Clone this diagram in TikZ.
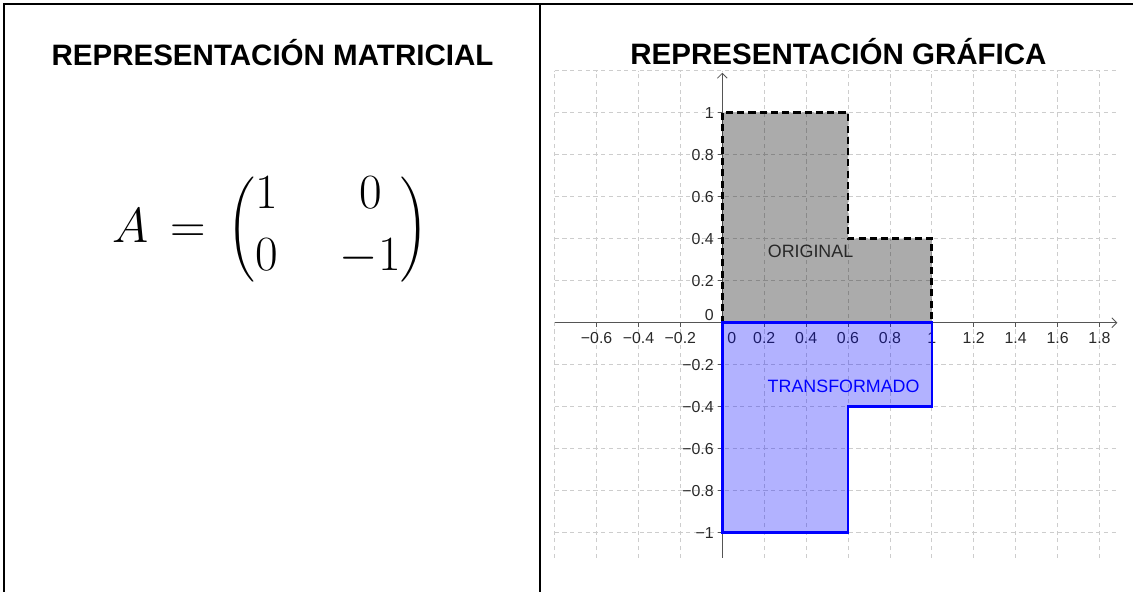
\RequirePackage{fix-cm}
\documentclass[tikz,border=0pt]{standalone}
\usepackage{amsmath}
\usepackage[no-math]{fontspec}
\setmainfont{Liberation Sans}
\usepackage{tikz}
\usetikzlibrary{arrows.meta}
\definecolor{gridgray}{RGB}{205,205,205}
\definecolor{axisgray}{RGB}{85,85,85}
\definecolor{labelgray}{RGB}{40,40,40}

\begin{document}
\begin{tikzpicture}[x=0.025cm, y=-0.025cm,
        frame/.style={line width=1.5pt, black},
        title/.style={font=\fontsize{21}{24}\selectfont\bfseries, anchor=base, inner sep=0pt},
        gridline/.style={gridgray, line width=0.6pt, dash pattern=on 3pt off 2.5pt},
        axis/.style={axisgray, line width=0.6pt, -{Straight Barb[length=3.5pt, width=7pt]}},
        tick/.style={axisgray, line width=0.6pt},
        ticklabel/.style={font=\fontsize{11.3}{13}\selectfont, text=labelgray, inner sep=0pt},
        original/.style={fill=black, fill opacity=0.33, draw=black, line width=2pt, dash pattern=on 5pt off 3pt},
        transformed/.style={fill=blue, fill opacity=0.3, draw=blue, line width=1.8pt},
        shapelabel/.style={font=\fontsize{12.7}{14}\selectfont, inner sep=0pt}
    ]
        \useasboundingbox (0,0) rectangle (1133,592);

        % 1. The table frame
        \draw[frame] (4,592) -- (4,4) -- (1133,4);
        \draw[frame] (540,4) -- (540,592);

        % 2. The headings
        \node[title] (tmat) at (272.5,65) {REPRESENTACIÓN MATRICIAL};
        \node[title] (tgraf) at (838.5,64) {REPRESENTACIÓN GRÁFICA};

        % 3. The matrix
        \node[inner sep=0pt] (matA) at (270.5,230)
            {\fontsize{35}{28}\selectfont\setlength{\arraycolsep}{22pt}\delimiterfactor=750 \delimitershortfall=15pt
             $A\,=\,\left(\begin{matrix}1 & 0\\[13.1pt] 0 & -1\end{matrix}\right)$};

        % 4. The plot
        \begin{scope}[shift={(722.3,322.7)}, x=5.2375cm, y=5.25cm]
            % grid
            \foreach \v in {-1,-0.8,-0.6,-0.4,-0.2,0,0.2,0.4,0.6,0.8,1,1.2}
                \draw[gridline] (-0.8,\v) -- (1.89,\v);
            \foreach \u in {-0.8,-0.6,-0.4,-0.2,0,0.2,0.4,0.6,0.8,1,1.2,1.4,1.6,1.8}
                \draw[gridline] (\u,-1.12) -- (\u,1.2);

            % axes
            \coordinate (xmin) at (-0.8,0);
            \coordinate (xmax) at (1.885,0);
            \coordinate (ymin) at (0,-1.12);
            \coordinate (ymax) at (0,1.19);
            \draw[axis] (xmin) -- (xmax);
            \draw[axis] (ymin) -- (ymax);

            % ticks and labels
            \foreach \u/\t in {-0.6/−0.6,-0.4/−0.4,-0.2/−0.2,0.2/0.2,0.4/0.4,0.6/0.6,0.8/0.8,1/1,1.2/1.2,1.4/1.4,1.6/1.6,1.8/1.8}{
                \draw[tick] (\u,0) -- (\u,-0.02);
                \node[ticklabel] (xl\u) at (\u,-0.073) {\t};
            }
            \node[ticklabel] (xl0) at (0.045,-0.073) {0};
            \foreach \v/\t in {-1/−1,-0.8/−0.8,-0.6/−0.6,-0.4/−0.4,-0.2/−0.2,0.2/0.2,0.4/0.4,0.6/0.6,0.8/0.8,1/1}{
                \draw[tick] (0,\v) -- (-0.02,\v);
                \node[ticklabel, anchor=east] (yl\v) at (-0.04,\v) {\t};
            }
            \node[ticklabel, anchor=east] (yl0) at (-0.04,0.037) {0};

            % original and transformed shapes
            \draw[original] (0,0) -- (0,1) -- (0.6,1) -- (0.6,0.4) -- (1,0.4) -- (1,0) -- cycle;
            \draw[transformed] (0,0) -- (0,-1) -- (0.6,-1) -- (0.6,-0.4) -- (1,-0.4) -- (1,0) -- cycle;

            \node[shapelabel, text=labelgray] (orig) at (0.421,0.341) {ORIGINAL};
            \node[shapelabel, text=blue] (trans) at (0.579,-0.301) {TRANSFORMADO};
        \end{scope}

    \end{tikzpicture}
\end{document}
